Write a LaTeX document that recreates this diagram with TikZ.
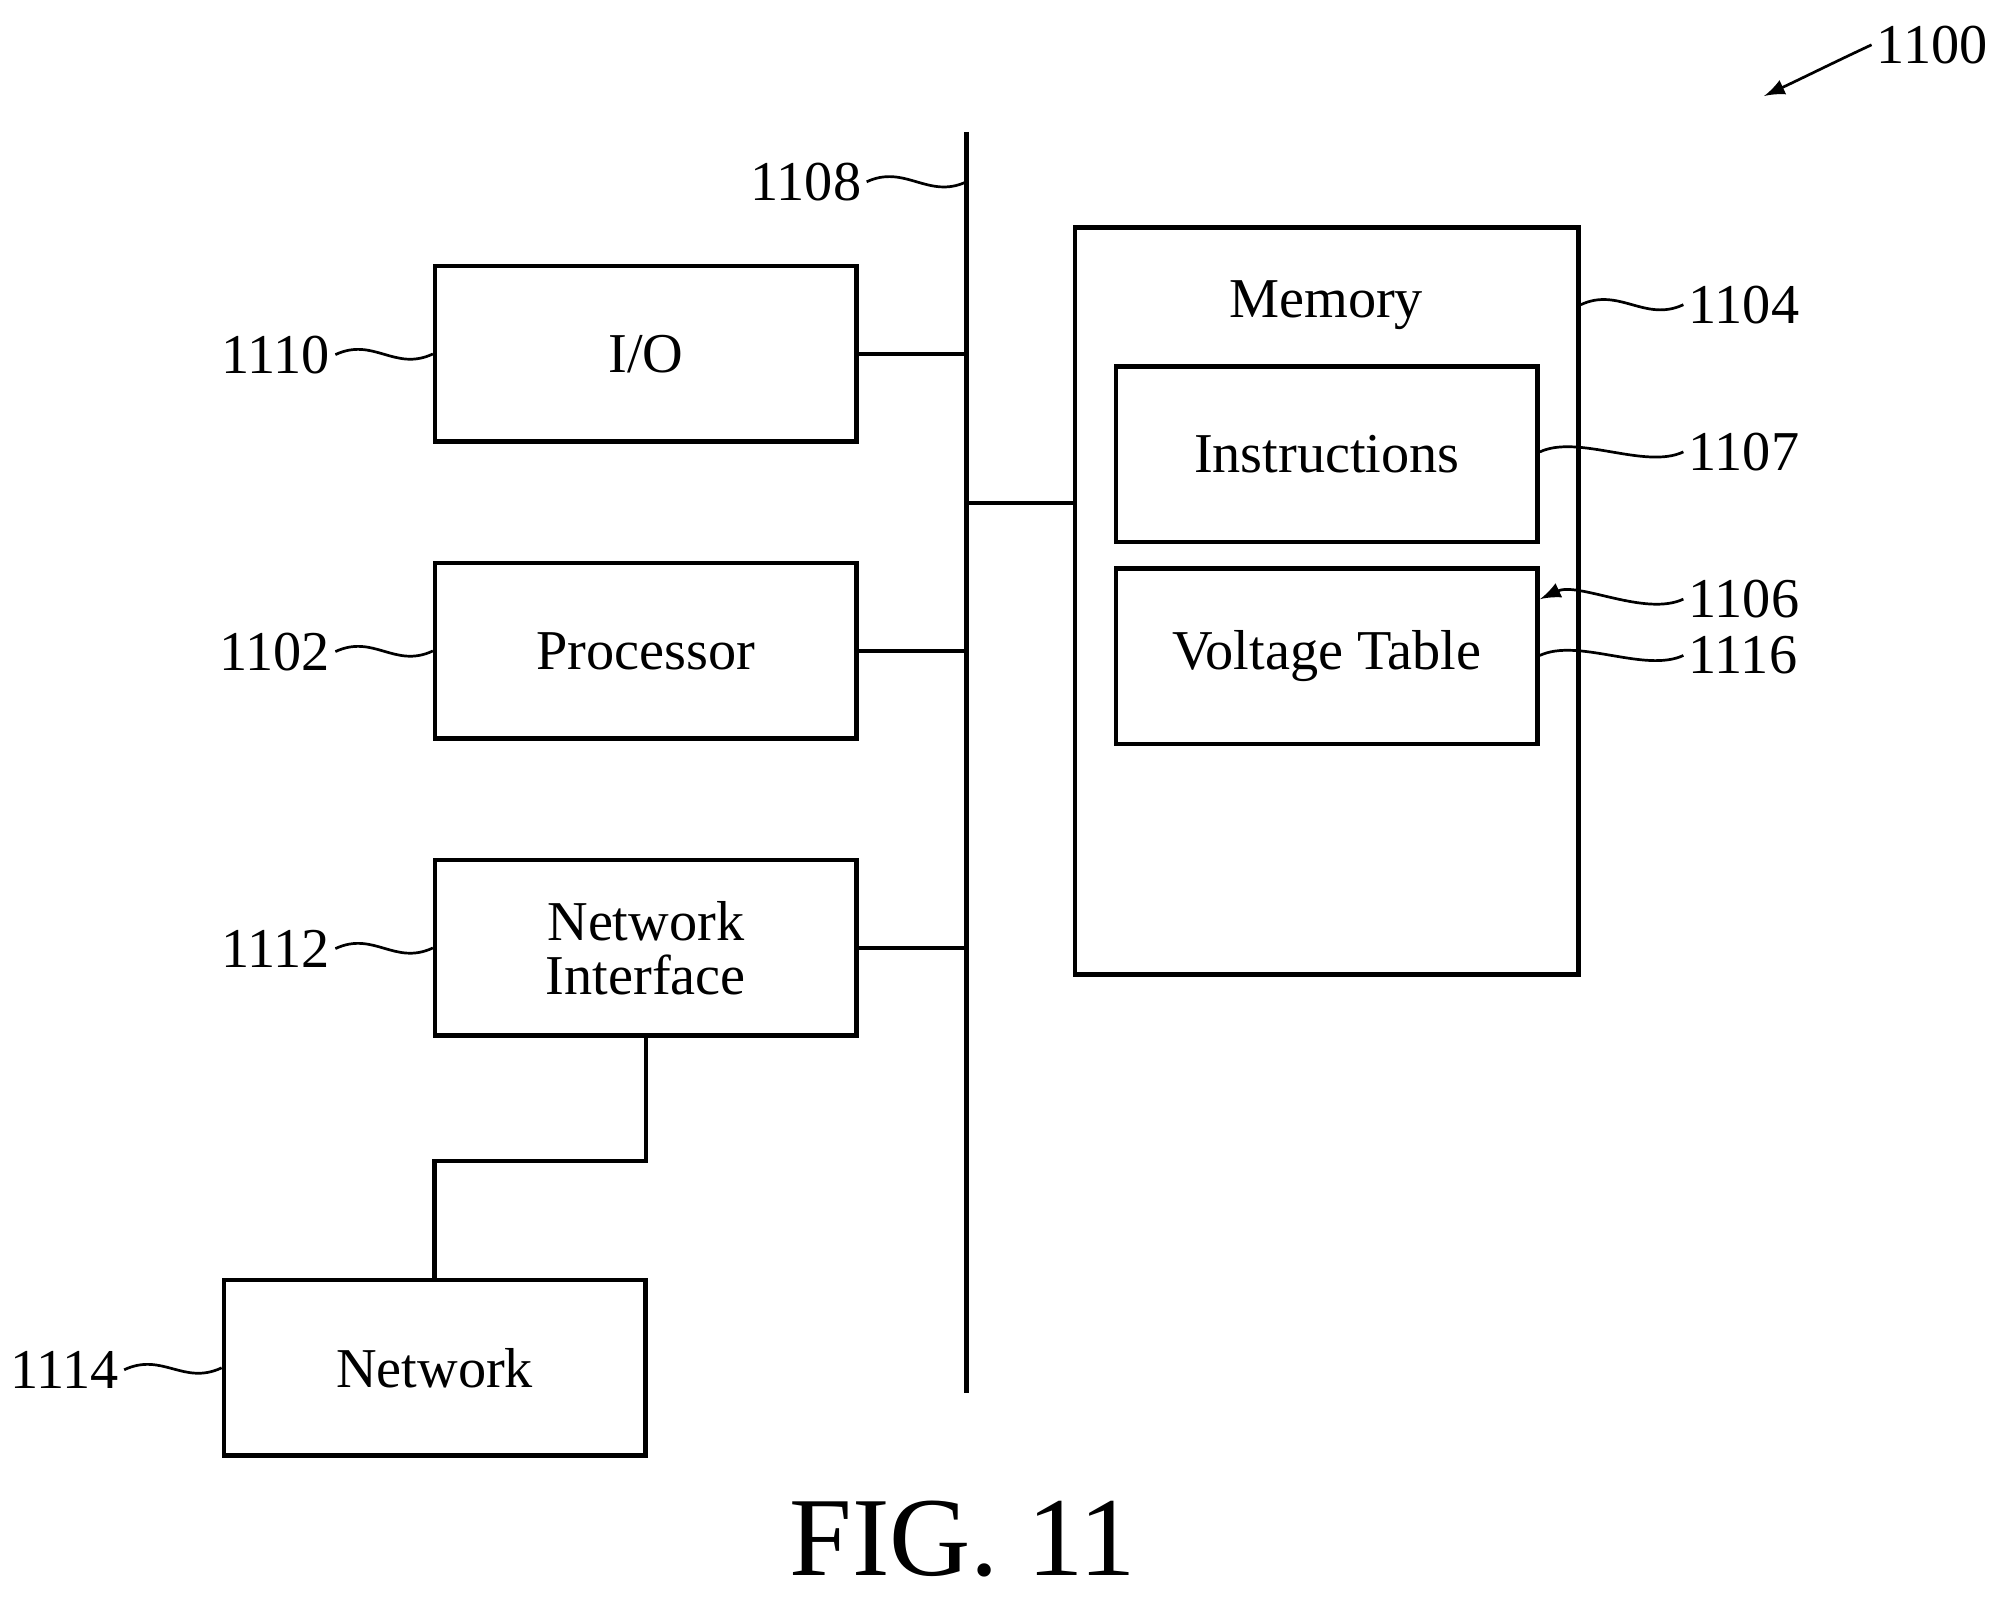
\documentclass[tikz,border=0pt]{standalone}
\usepackage{fontspec}
\setmainfont{Liberation Serif}
\usetikzlibrary{calc}

\tikzset{
  blk/.style={draw, line width=1pt, minimum width=3.29cm, minimum height=1.37cm, inner sep=0pt, font=\fontsize{12.5}{14}\selectfont, align=center},
  lbl/.style={font=\fontsize{12.5}{14}\selectfont, inner sep=1pt},
  wire/.style={line width=1pt},
  lead/.style={line width=0.6pt}
}
\newcommand{\leadline}[2]{\draw[lead] (#1) .. controls +(30,-14) and +(-30,14) .. (#2);}

\begin{document}
\begin{tikzpicture}[x=0.01cm, y=-0.01cm]
    \useasboundingbox (0,0) rectangle (1560,1247);

    % bus
    \coordinate (bustop) at (755,103);
    \coordinate (busbot) at (755,1088);
    \draw[wire] (bustop) -- (busbot);

    % blocks
    \node[blk] (io) at (504.5,276.5) {I/O};
    \node[blk] (proc) at (504.5,508.5) {Processor};
    \node[blk] (nic) at (504.5,740.5) {Network\\[-2pt]Interface};
    \node[blk] (net) at (339.5,1068.5) {Network};
    \node[draw, line width=1pt, minimum width=3.93cm, minimum height=5.83cm] (mem) at (1036.5,469.5) {};
    \node[lbl] (memtxt) at (1036,238) {Memory};
    \node[blk] (instr) at (1036.5,355) {Instructions};
    \node[blk] (vtab) at (1036.5,512.5) {Voltage Table};

    % connections to bus
    \draw[wire] (io.east) -- (io.east -| bustop);
    \draw[wire] (proc.east) -- (proc.east -| bustop);
    \draw[wire] (nic.east) -- (nic.east -| bustop);
    \draw[wire] (mem.west |- 0,393) -- (bustop |- 0,393);
    \draw[wire] (nic.south) -- ++(0,96) -| (net.north);

    % reference labels
    \node[lbl, anchor=east] (r1108) at (677,142) {1108};
    \node[lbl, anchor=east] (r1110) at (262,277) {1110};
    \node[lbl, anchor=east] (r1102) at (262,509) {1102};
    \node[lbl, anchor=east] (r1112) at (262,741) {1112};
    \node[lbl, anchor=east] (r1114) at (97,1070) {1114};
    \node[lbl, anchor=west] (r1104) at (1315,238) {1104};
    \node[lbl, anchor=west] (r1107) at (1315,353) {1107};
    \node[lbl, anchor=west] (r1106) at (1315,468) {1106};
    \node[lbl, anchor=west] (r1116) at (1315,512) {1116};
    \node[lbl, anchor=west] (r1100) at (1462,35) {1100};

    \leadline{r1108.east}{bustop |- r1108.east}
    \leadline{r1110.east}{io.west}
    \leadline{r1102.east}{proc.west}
    \leadline{r1112.east}{nic.west}
    \leadline{r1114.east}{net.west}
    \leadline{mem.east |- r1104.west}{r1104.west}
    \leadline{instr.east |- r1107.west}{r1107.west}
    \leadline{vtab.east |- r1116.west}{r1116.west}
    \draw[lead, -latex] (r1106.west) .. controls +(-30,14) and +(30,-14) .. (1203,468);
    \coordinate (arr1100) at (1378,75);
    \draw[lead, -latex] (r1100.west) .. controls +(-30,14) and +(30,-14) .. (arr1100);

    \node[font=\fontsize{25}{28}\selectfont] (fig) at (752,1202) {FIG. 11};
\end{tikzpicture}
\end{document}
